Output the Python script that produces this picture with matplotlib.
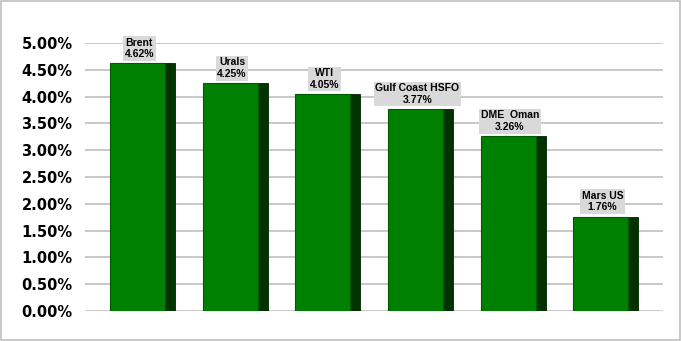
import matplotlib.pyplot as plt
from matplotlib.ticker import FuncFormatter
import numpy as np

grades = ['Brent', 'Urals', 'WTI', 'Gulf Coast HSFO', 'DME  Oman', 'Mars US']
values = [4.62, 4.25, 4.05, 3.77, 3.26, 1.76]

front_w = 0.594
side_w = 0.108

fig = plt.figure(figsize=(6.81, 3.41), dpi=100)
ax = fig.add_axes([85 / 681, 30 / 341, 578 / 681, 268 / 341])

x = np.arange(len(grades))
ax.bar(x + front_w, values, width=side_w, align='edge', color='#003300',
       edgecolor='#002200', linewidth=0.6, zorder=3)
ax.bar(x, values, width=front_w, align='edge', color='#008000',
       edgecolor='#005a00', linewidth=0.8, zorder=4)

for xi, v, name in zip(x, values, grades):
    ax.annotate(f'{name}\n{v:.2f}%', (xi + front_w / 2 + 0.02, v),
                xytext=(0, 3), textcoords='offset points',
                ha='center', va='bottom', fontsize=7.5, fontweight='bold',
                family='Liberation Sans', linespacing=1.2, zorder=5,
                bbox=dict(boxstyle='square,pad=0.15', fc='#d9d9d9', ec='none'))

ax.set_xlim(-0.27, 5.97)
ax.set_ylim(0, 5)
ax.set_yticks(np.arange(0, 5.01, 0.5))
ax.yaxis.set_major_formatter(FuncFormatter(lambda v, p: f'{v:.2f}%'))
ax.set_xticks([])
ax.grid(axis='y', color='#bfbfbf', linewidth=1.2, zorder=0)
ax.tick_params(axis='y', length=0, pad=9, labelsize=10.5)
for lab in ax.get_yticklabels():
    lab.set_fontweight('bold')
for s in ax.spines.values():
    s.set_visible(False)

fig.patches.append(plt.Rectangle((0.002, 0.003), 0.996, 0.994, transform=fig.transFigure,
                                 fill=False, ec='#bfbfbf', lw=1.2))

fig.savefig('out.png', dpi=100)
